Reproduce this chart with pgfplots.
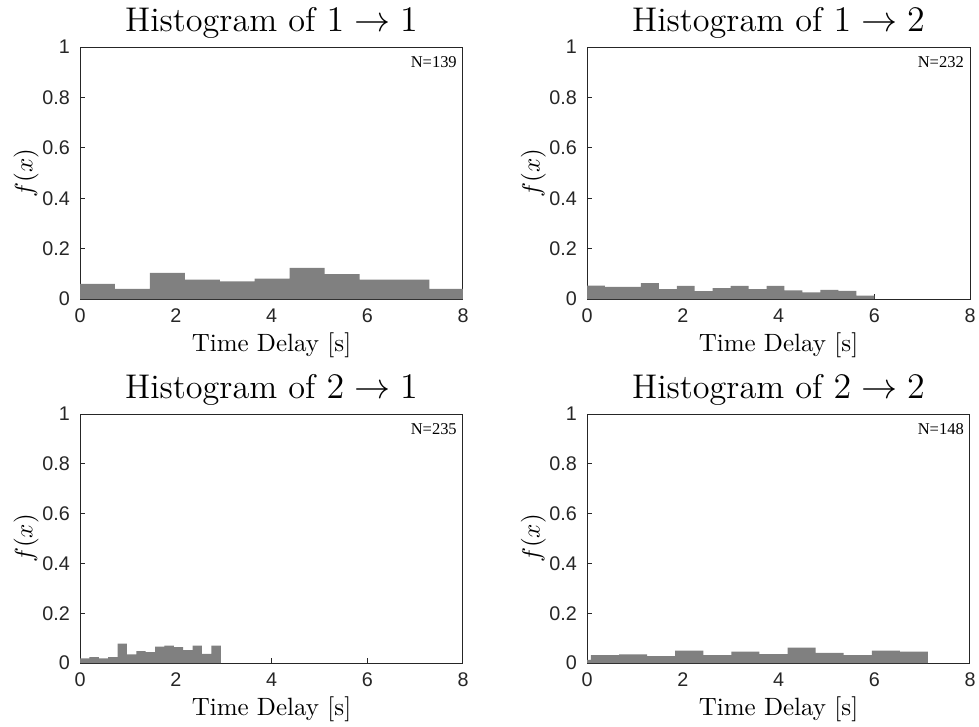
\documentclass[border=0pt]{standalone}
\usepackage{fontspec}
\usepackage{pgfplots}
\pgfplotsset{compat=1.18}
\newfontfamily\ticksf{Liberation Sans}
\newfontfamily\nfont{Liberation Serif}

\definecolor{barg}{RGB}{128,128,128}
\definecolor{axg}{RGB}{38,38,38}

\pgfplotsset{
  hist/.style={
    scale only axis,
    width=153.2pt,
    anchor=south west,
    xmin=0, xmax=8, ymin=0, ymax=1,
    xtick={0,2,4,6,8},
    ytick={0,0.2,0.4,0.6,0.8,1},
    yticklabels={0,0.2,0.4,0.6,0.8,1},
    xtick pos=left, ytick pos=left,
    tick align=inside,
    major tick length=2pt,
    axis line style={axg, line width=0.4pt},
    every tick/.style={axg, line width=0.4pt},
    /pgf/number format/assume math mode=true,
    tick label style={font=\ticksf\fontsize{7.9}{9}\selectfont, text=axg},
    xticklabel style={yshift=-0.5pt},
    yticklabel style={xshift=-0.5pt},
    xlabel={Time Delay [s]},
    ylabel={$f(x)$},
    label style={font=\fontsize{10}{12}\selectfont},
    xlabel style={at={(axis description cs:0.5,0)}, anchor=base, yshift=-21pt},
    ylabel style={at={(axis description cs:0,0.5)}, anchor=center, yshift=21.5pt},
    title style={at={(axis description cs:0.5,1)}, anchor=base, yshift=0.4pt, font=\fontsize{13.7}{16}\selectfont},
  },
  bars/.style={ybar interval, fill=barg, draw=none},
}

\begin{document}
\begin{tikzpicture}
\useasboundingbox (0,0) rectangle (391.6pt,290.4pt);

% 1 -> 1
\begin{axis}[hist, at={(32pt,170.8pt)}, height=100.8pt, title={Histogram of $1 \to 1$}]
\addplot[bars] coordinates {
(0,0.060) (0.73,0.040) (1.46,0.104) (2.19,0.077) (2.92,0.070) (3.65,0.081)
(4.38,0.124) (5.11,0.099) (5.84,0.077) (6.57,0.077) (7.30,0.040) (8.03,0.040)};
\node[anchor=north east, inner sep=0pt, font=\nfont\fontsize{6.6}{8}\selectfont] at (axis description cs:0.985,0.965) {N=139};
\end{axis}

% 1 -> 2
\begin{axis}[hist, at={(234.8pt,170.8pt)}, height=100.8pt, title={Histogram of $1 \to 2$}]
\addplot[bars] coordinates {
(0,0.053) (0.375,0.048) (0.75,0.048) (1.125,0.063) (1.5,0.039) (1.875,0.052)
(2.25,0.031) (2.625,0.043) (3.0,0.052) (3.375,0.039) (3.75,0.052) (4.125,0.034)
(4.5,0.026) (4.875,0.036) (5.25,0.032) (5.625,0.013) (6.0,0.013)};
\node[anchor=north east, inner sep=0pt, font=\nfont\fontsize{6.6}{8}\selectfont] at (axis description cs:0.985,0.965) {N=232};
\end{axis}

% 2 -> 1
\begin{axis}[hist, at={(32pt,25.2pt)}, height=99.6pt, title={Histogram of $2 \to 1$}]
\addplot[bars] coordinates {
(0,0.019) (0.196,0.024) (0.392,0.019) (0.588,0.024) (0.784,0.078) (0.980,0.035)
(1.176,0.048) (1.372,0.044) (1.568,0.066) (1.764,0.070) (1.960,0.064) (2.156,0.052)
(2.352,0.070) (2.548,0.037) (2.744,0.070) (2.940,0.070)};
\node[anchor=north east, inner sep=0pt, font=\nfont\fontsize{6.6}{8}\selectfont] at (axis description cs:0.985,0.965) {N=235};
\end{axis}

% 2 -> 2
\begin{axis}[hist, at={(234.8pt,25.2pt)}, height=99.6pt, title={Histogram of $2 \to 2$}]
\addplot[bars] coordinates {
(-0.503,0.013) (0.083,0.032) (0.670,0.035) (1.256,0.028) (1.843,0.050) (2.429,0.032)
(3.016,0.046) (3.602,0.036) (4.189,0.062) (4.775,0.041) (5.362,0.032) (5.948,0.050)
(6.535,0.046) (7.121,0.046)};
\node[anchor=north east, inner sep=0pt, font=\nfont\fontsize{6.6}{8}\selectfont] at (axis description cs:0.985,0.965) {N=148};
\end{axis}
\end{tikzpicture}
\end{document}
